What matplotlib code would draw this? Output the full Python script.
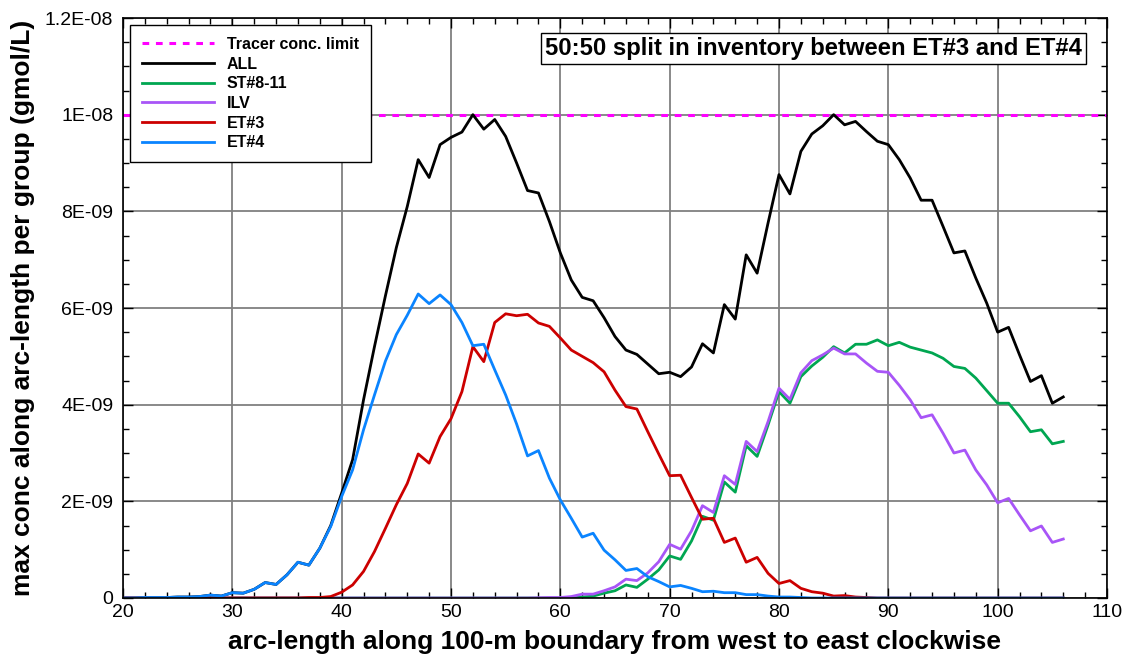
import numpy as np
import matplotlib
matplotlib.use("Agg")
import matplotlib.pyplot as plt
from matplotlib.ticker import MultipleLocator, FixedLocator

plt.rcParams['font.family'] = ['Liberation Sans', 'DejaVu Sans']

arc = list(range(20, 107))

tracer_limit = 1e-8

all_groups = [0.0, 0.0, 0.01, 0.01, 0.01, 0.02, 0.02, 0.03, 0.06, 0.04,
              0.11, 0.10, 0.18, 0.32, 0.28, 0.48, 0.74, 0.68, 1.03, 1.50,
              2.17, 2.86, 4.10, 5.20, 6.25, 7.25, 8.10, 9.07, 8.70, 9.38,
              9.53, 9.64, 10.0, 9.70, 9.90, 9.55, 9.00, 8.43, 8.38, 7.79,
              7.14, 6.58, 6.22, 6.15, 5.80, 5.41, 5.13, 5.04, 4.84, 4.64,
              4.67, 4.58, 4.78, 5.26, 5.07, 6.07, 5.77, 7.10, 6.72, 7.76,
              8.76, 8.36, 9.24, 9.60, 9.77, 10.0, 9.79, 9.86, 9.65, 9.45,
              9.38, 9.07, 8.69, 8.23, 8.23, 7.69, 7.14, 7.18, 6.62, 6.10,
              5.50, 5.60, 5.03, 4.48, 4.60, 4.03, 4.16]

st8_11 = [0.0] * 42 + [0.02, 0.04, 0.10, 0.15, 0.27, 0.22, 0.39, 0.58,
              0.87, 0.80, 1.18, 1.69, 1.61, 2.40, 2.19, 3.15, 2.93, 3.58,
              4.27, 4.03, 4.58, 4.80, 4.98, 5.20, 5.07, 5.25, 5.25, 5.34,
              5.22, 5.29, 5.19, 5.13, 5.07, 4.96, 4.79, 4.75, 4.55, 4.29,
              4.03, 4.03, 3.75, 3.44, 3.48, 3.19, 3.24]

ilv = [0.0] * 38 + [0.005, 0.01,
              0.01, 0.03, 0.08, 0.08, 0.15, 0.23, 0.39, 0.36, 0.52, 0.75,
              1.11, 1.01, 1.39, 1.91, 1.77, 2.53, 2.35, 3.24, 3.03, 3.65,
              4.34, 4.11, 4.66, 4.91, 5.03, 5.17, 5.05, 5.05, 4.86, 4.69,
              4.67, 4.40, 4.10, 3.73, 3.79, 3.41, 3.00, 3.06, 2.65, 2.34,
              1.97, 2.06, 1.72, 1.39, 1.49, 1.15, 1.22]

et3 = [0.0] * 17 + [0.01, 0.01, 0.03,
              0.12, 0.27, 0.55, 0.96, 1.44, 1.93, 2.37, 2.98, 2.79, 3.34,
              3.71, 4.27, 5.20, 4.89, 5.70, 5.88, 5.84, 5.87, 5.69, 5.62,
              5.38, 5.13, 5.00, 4.87, 4.68, 4.30, 3.96, 3.91, 3.44, 2.98,
              2.53, 2.54, 2.08, 1.63, 1.65, 1.15, 1.24, 0.74, 0.84, 0.51,
              0.30, 0.36, 0.20, 0.13, 0.10, 0.04, 0.05, 0.02, 0.01] + [0.0] * 18

et4 = [0.0, 0.0, 0.01, 0.01, 0.01, 0.02, 0.02, 0.03, 0.06, 0.04,
       0.11, 0.10, 0.18, 0.32, 0.28, 0.48, 0.74, 0.68, 1.03, 1.48,
       2.10, 2.65, 3.48, 4.20, 4.90, 5.45, 5.85, 6.29, 6.09, 6.27,
       6.07, 5.70, 5.22, 5.25, 4.72, 4.20, 3.60, 2.94, 3.05, 2.48,
       2.03, 1.65, 1.26, 1.34, 0.99, 0.79, 0.57, 0.61, 0.44, 0.34,
       0.23, 0.26, 0.20, 0.13, 0.14, 0.11, 0.11, 0.07, 0.07, 0.04,
       0.02, 0.02, 0.01] + [0.0] * 24

scale = 1e-9
y_ticks = [0, 2e-9, 4e-9, 6e-9, 8e-9, 1e-8, 1.2e-8]
y_tick_labels = ["0", "2E-09", "4E-09", "6E-09", "8E-09", "1E-08", "1.2E-08"]
x_ticks = [20, 30, 40, 50, 60, 70, 80, 90, 100, 110]

fig = plt.figure(figsize=(11.28, 6.62), dpi=100)
ax = fig.add_axes([123 / 1128, 64 / 662, 984 / 1128, 580 / 662])

x = np.array(arc)
ax.plot([20, 110], [tracer_limit, tracer_limit], color='#FF00FF', lw=2.2,
        ls=(0, (2.2, 2.2)), label='Tracer conc. limit', zorder=3)
ax.plot(x, np.array(all_groups) * scale, color='black', lw=2.0, label='ALL', zorder=4)
ax.plot(x, np.array(st8_11) * scale, color='#00A651', lw=2.0, label='ST#8-11', zorder=5)
ax.plot(x, np.array(ilv) * scale, color='#A855F7', lw=2.0, label='ILV', zorder=6)
ax.plot(x, np.array(et3) * scale, color='#CC0000', lw=2.0, label='ET#3', zorder=7)
ax.plot(x, np.array(et4) * scale, color='#0A84FF', lw=2.0, label='ET#4', zorder=8)

ax.set_xlim(20, 110)
ax.set_ylim(0, 1.2e-8)
ax.xaxis.set_major_locator(FixedLocator(x_ticks))
ax.xaxis.set_minor_locator(MultipleLocator(2))
ax.yaxis.set_major_locator(FixedLocator(y_ticks))
ax.set_yticklabels(y_tick_labels)
ax.yaxis.set_minor_locator(MultipleLocator(5e-10))
ax.tick_params(which='both', direction='in', top=True, right=True, labelsize=14,
               width=1.0, colors='black')
ax.tick_params(which='major', length=7)
ax.tick_params(which='minor', length=4)
ax.tick_params(axis='x', pad=4)
ax.tick_params(axis='y', pad=7)
ax.grid(True, which='major', color='#808080', lw=1.3, zorder=1)
for s in ax.spines.values():
    s.set_linewidth(1.2)
    s.set_zorder(10)

ax.set_xlabel('arc-length along 100-m boundary from west to east clockwise',
              fontsize=19, fontweight='bold', labelpad=7)
ax.set_ylabel('max conc along arc-length per group (gmol/L)',
              fontsize=19, fontweight='bold', labelpad=7)

leg = ax.legend(loc='upper left', bbox_to_anchor=(7 / 984, 1 - 7 / 580),
                borderaxespad=0, prop={'weight': 'bold', 'size': 11.5},
                handlelength=4.5, labelspacing=0.29, fancybox=False,
                framealpha=1, edgecolor='black', borderpad=0.75, handletextpad=0.8)
leg.get_frame().set_linewidth(1.0)
leg.set_zorder(20)

ax.text(1 - 25 / 984, 1 - 19 / 580, '50:50 split in inventory between ET#3 and ET#4',
        transform=ax.transAxes, ha='right', va='top', fontsize=17.2, fontweight='bold',
        bbox=dict(boxstyle='square,pad=0.18', fc='white', ec='black', lw=1.0), zorder=20)

fig.savefig('out.png', dpi=100)
